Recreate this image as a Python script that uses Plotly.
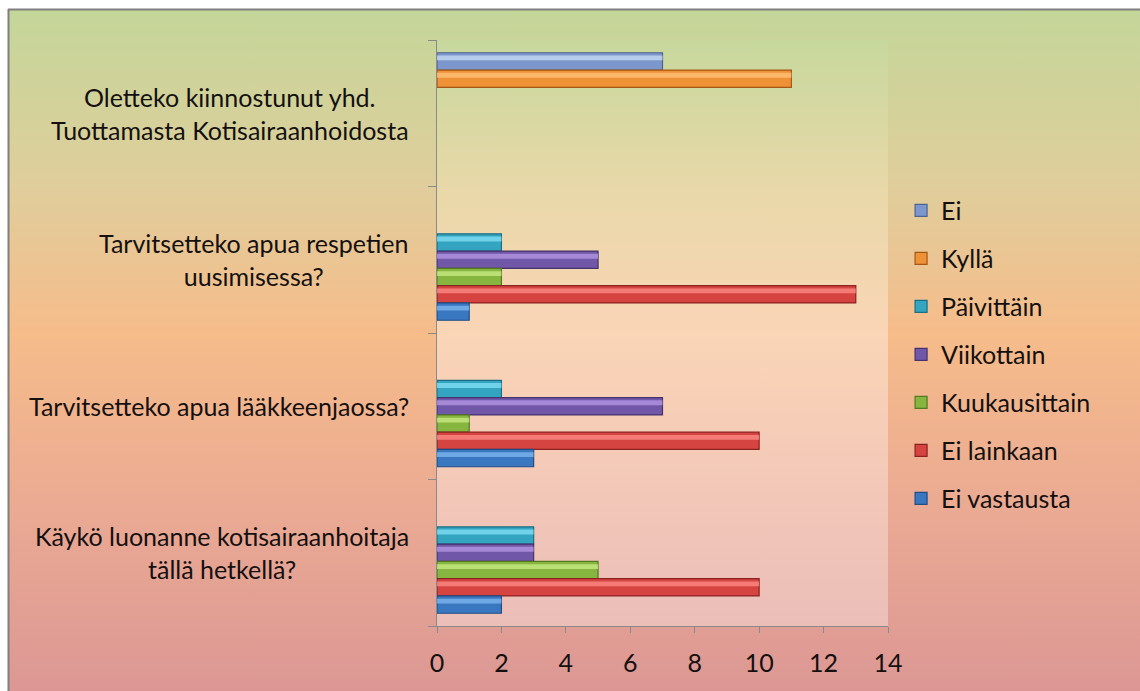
import base64
import plotly.graph_objects as go

# Survey questions, bottom to top on the chart
categories = [
    "Käykö luonanne kotisairaanhoitaja tällä hetkellä?",
    "Tarvitsetteko apua lääkkeenjaossa?",
    "Tarvitsetteko apua respetien uusimisessa?",
    "Oletteko kiinnostunut yhd. Tuottamasta Kotisairaanhoidosta",
]
category_labels = [
    "Käykö luonanne kotisairaanhoitaja<br>tällä hetkellä?",
    "Tarvitsetteko apua lääkkeenjaossa?",
    "Tarvitsetteko apua respetien<br>uusimisessa?",
    "Oletteko kiinnostunut yhd.<br>Tuottamasta Kotisairaanhoidosta",
]

# Answer counts per question (None = answer option not asked)
ei = [None, None, None, 7]
kylla = [None, None, None, 11]
paivittain = [3, 2, 2, None]
viikottain = [3, 7, 5, None]
kuukausittain = [5, 1, 2, None]
ei_lainkaan = [10, 10, 13, None]
ei_vastausta = [2, 3, 1, None]

x_ticks = [0, 2, 4, 6, 8, 10, 12, 14]

# (name, values, face colour, highlight colour, edge colour) in legend order, top slot first
series = [
    ("Ei", ei, "#7C97CC", "#C9DDF6", "#4E6490"),
    ("Kyllä", kylla, "#EF9137", "#FFC57C", "#A45814"),
    ("Päivittäin", paivittain, "#34A5C1", "#86E3F5", "#1B6E84"),
    ("Viikottain", viikottain, "#7157A8", "#B89AE6", "#45326E"),
    ("Kuukausittain", kuukausittain, "#86B540", "#CBEE86", "#557921"),
    ("Ei lainkaan", ei_lainkaan, "#D64442", "#FF8E8A", "#8A2220"),
    ("Ei vastausta", ei_vastausta, "#3A77C1", "#80BAF0", "#204D84"),
]

FONT = "Lato, Calibri, sans-serif"
TEXT = "#141010"

n = len(series)
group_gap = 0.174
slot = (1 - group_gap) / n

fig = go.Figure()
for i, (name, vals, face, hi, edge) in enumerate(series):
    j = n - 1 - i  # slot index counted from the bottom of each group
    off = -0.5 + group_gap / 2 + j * slot
    fig.add_trace(go.Bar(
        name=name, y=categories, x=vals, orientation="h",
        width=slot, offset=off, legendgroup=name,
        marker=dict(color=face, line=dict(color=edge, width=1.2)),
        hoverinfo="x+name",
    ))
    # glossy highlight along the upper part of each bar
    fig.add_trace(go.Bar(
        y=categories, x=vals, orientation="h",
        width=slot * 0.28, offset=off + slot * 0.56, legendgroup=name,
        marker=dict(color=hi, opacity=0.75, line=dict(width=0)),
        showlegend=False, hoverinfo="skip",
    ))

for cat, lab in zip(categories, category_labels):
    fig.add_annotation(
        x=-0.058, xref="paper", y=cat, yref="y", text=lab,
        xanchor="right", yanchor="middle", align="center", showarrow=False,
        font=dict(family=FONT, size=25, color=TEXT),
    )

# Background: framed gradient for the chart area and a lighter gradient for the plot area
W, H = 1140, 691
L, T, R, B = 437, 40, 888, 626
svg = f"""<svg xmlns='http://www.w3.org/2000/svg' width='{W}' height='{H}' viewBox='0 0 {W} {H}' preserveAspectRatio='none'>
<defs>
<linearGradient id='o' x1='0' y1='0' x2='0' y2='1'>
<stop offset='0' stop-color='#C4D699'/>
<stop offset='0.25' stop-color='#DFCE9C'/>
<stop offset='0.47' stop-color='#F6BC8A'/>
<stop offset='0.72' stop-color='#EAAA93'/>
<stop offset='1' stop-color='#DB9694'/>
</linearGradient>
<linearGradient id='p' x1='0' y1='0' x2='0' y2='1'>
<stop offset='0' stop-color='#C7D89D'/>
<stop offset='0.26' stop-color='#E9D8A9'/>
<stop offset='0.5' stop-color='#FAD5B6'/>
<stop offset='0.76' stop-color='#F3C8B8'/>
<stop offset='1' stop-color='#EBBEB8'/>
</linearGradient>
</defs>
<rect x='0' y='0' width='{W}' height='{H}' fill='#FFFFFF'/>
<rect x='9' y='10' width='{W}' height='{H}' fill='url(#o)'/>
<line x1='8.5' y1='9' x2='8.5' y2='{H}' stroke='#7F7F7F' stroke-width='2'/>
<line x1='8' y1='9.5' x2='{W}' y2='9.5' stroke='#7F7F7F' stroke-width='2'/>
<rect x='{L}' y='{T}' width='{R - L}' height='{B - T}' fill='url(#p)'/>
</svg>"""
src = "data:image/svg+xml;base64," + base64.b64encode(svg.encode()).decode()
pw, ph = R - L, B - T
fig.add_layout_image(
    source=src, xref="paper", yref="paper",
    x=-L / pw, y=B / ph, sizex=W / pw, sizey=H / ph,
    xanchor="left", yanchor="top", sizing="stretch", layer="below",
)

fig.update_layout(
    width=W, height=H,
    margin=dict(l=L, r=W - R, t=T, b=H - B, pad=0),
    paper_bgcolor="white", plot_bgcolor="rgba(0,0,0,0)",
    barmode="overlay",
    font=dict(family=FONT, size=24, color=TEXT),
    showlegend=True,
    legend=dict(
        x=1.029, xanchor="left", y=0.748, yanchor="top",
        bgcolor="rgba(0,0,0,0)", traceorder="grouped", tracegroupgap=12.5,
        font=dict(family=FONT, size=25, color=TEXT),
        itemwidth=30,
    ),
    xaxis=dict(
        range=[0, 14], tickvals=x_ticks, showgrid=False, zeroline=False,
        showline=True, linecolor="#8A8A8A", linewidth=1,
        ticks="outside", ticklen=6, tickcolor="#8A8A8A",
        ticklabelstandoff=9,
        tickfont=dict(family=FONT, size=25, color=TEXT),
    ),
    yaxis=dict(
        type="category", categoryorder="array", categoryarray=categories,
        range=[-0.5, len(categories) - 0.5],
        showticklabels=False, showgrid=False, zeroline=False,
        showline=True, linecolor="#8A8A8A", linewidth=1,
        ticks="outside", ticklen=8, tickcolor="#8A8A8A", tickson="boundaries",
    ),
)

fig.write_html("out.html")
